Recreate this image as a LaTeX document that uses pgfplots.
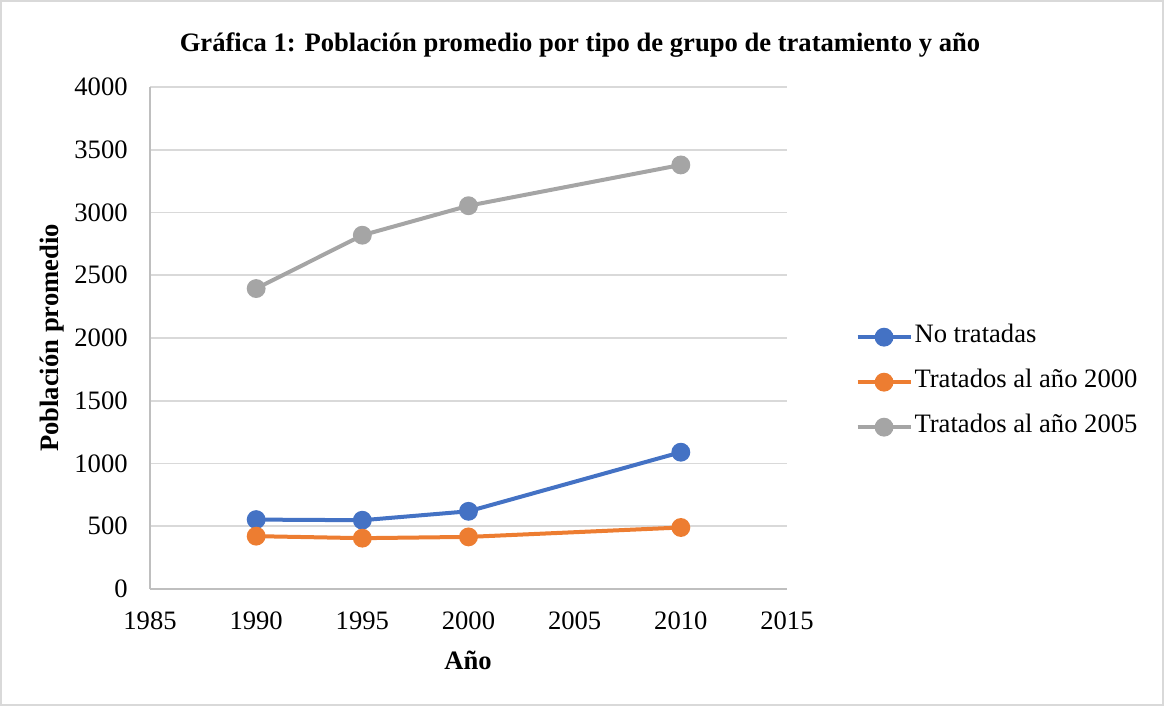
\documentclass[border=0pt]{standalone}
\usepackage{fontspec}
\setmainfont{Liberation Serif}
\usepackage{pgfplots}
\pgfplotsset{compat=1.18}
\definecolor{cblue}{HTML}{4472C4}
\definecolor{corange}{HTML}{ED7D31}
\definecolor{cgray}{HTML}{A5A5A5}
\definecolor{gridc}{HTML}{D9D9D9}
\definecolor{axc}{HTML}{BFBFBF}
\begin{document}
\fontsize{13.3}{16}\selectfont
\begin{tikzpicture}
\useasboundingbox (0,0) rectangle (582pt,353pt);
\draw[gridc, line width=0.6pt] (0.5pt,0.5pt) rectangle (581.5pt,352.5pt);
\begin{axis}[
  at={(75pt,58.5pt)}, anchor=south west,
  scale only axis, width=318.5pt, height=251pt,
  xmin=1985, xmax=2015, ymin=0, ymax=4000,
  xtick={1985,1990,...,2015}, ytick={0,500,...,4000},
  axis x line*=bottom, axis y line*=left,
  axis line style={axc, line width=0.8pt, -},
  ymajorgrids, grid style={gridc, line width=0.8pt},
  major tick length=0pt,
  tick label style={font=\fontsize{13.3}{16}\selectfont, inner sep=0pt},
  yticklabel style={xshift=-11pt},
  xticklabel style={yshift=-11pt},
  /pgf/number format/assume math mode=true,
  /pgf/number format/1000 sep={},
  legend cell align=left,
  legend style={at={(1.107,0.412)}, anchor=west, draw=none, fill=none,
    font=\fontsize{13.3}{16}\selectfont, inner sep=0pt, row sep=10pt,
    nodes={inner sep=1pt, text height=8pt, text depth=2.5pt}},
  legend image code/.code={
    \draw[mark repeat=2, mark phase=2] plot coordinates {(0pt,0pt) (13.25pt,0pt) (26.5pt,0pt)};},
  every axis plot/.append style={line width=2pt, mark=*, mark size=3.7pt},
]
\addplot[cblue, mark options={fill=cblue}] coordinates {(1990,553) (1995,548) (2000,619) (2010,1090)};
\addlegendentry{No tratadas}
\addplot[corange, mark options={fill=corange}] coordinates {(1990,421) (1995,405) (2000,415) (2010,490)};
\addlegendentry{Tratados al año 2000}
\addplot[cgray, mark options={fill=cgray}] coordinates {(1990,2394) (1995,2819) (2000,3054) (2010,3379)};
\addlegendentry{Tratados al año 2005}
\end{axis}
\node[font=\bfseries\fontsize{13.3}{16}\selectfont] at (290pt,330.5pt) {Gráfica 1: Población promedio por tipo de grupo de tratamiento y año};
\node[font=\bfseries\fontsize{13.3}{16}\selectfont, rotate=90] at (26pt,184pt) {Población promedio};
\node[font=\bfseries\fontsize{13.3}{16}\selectfont] at (234pt,23pt) {Año};
\end{tikzpicture}
\end{document}
